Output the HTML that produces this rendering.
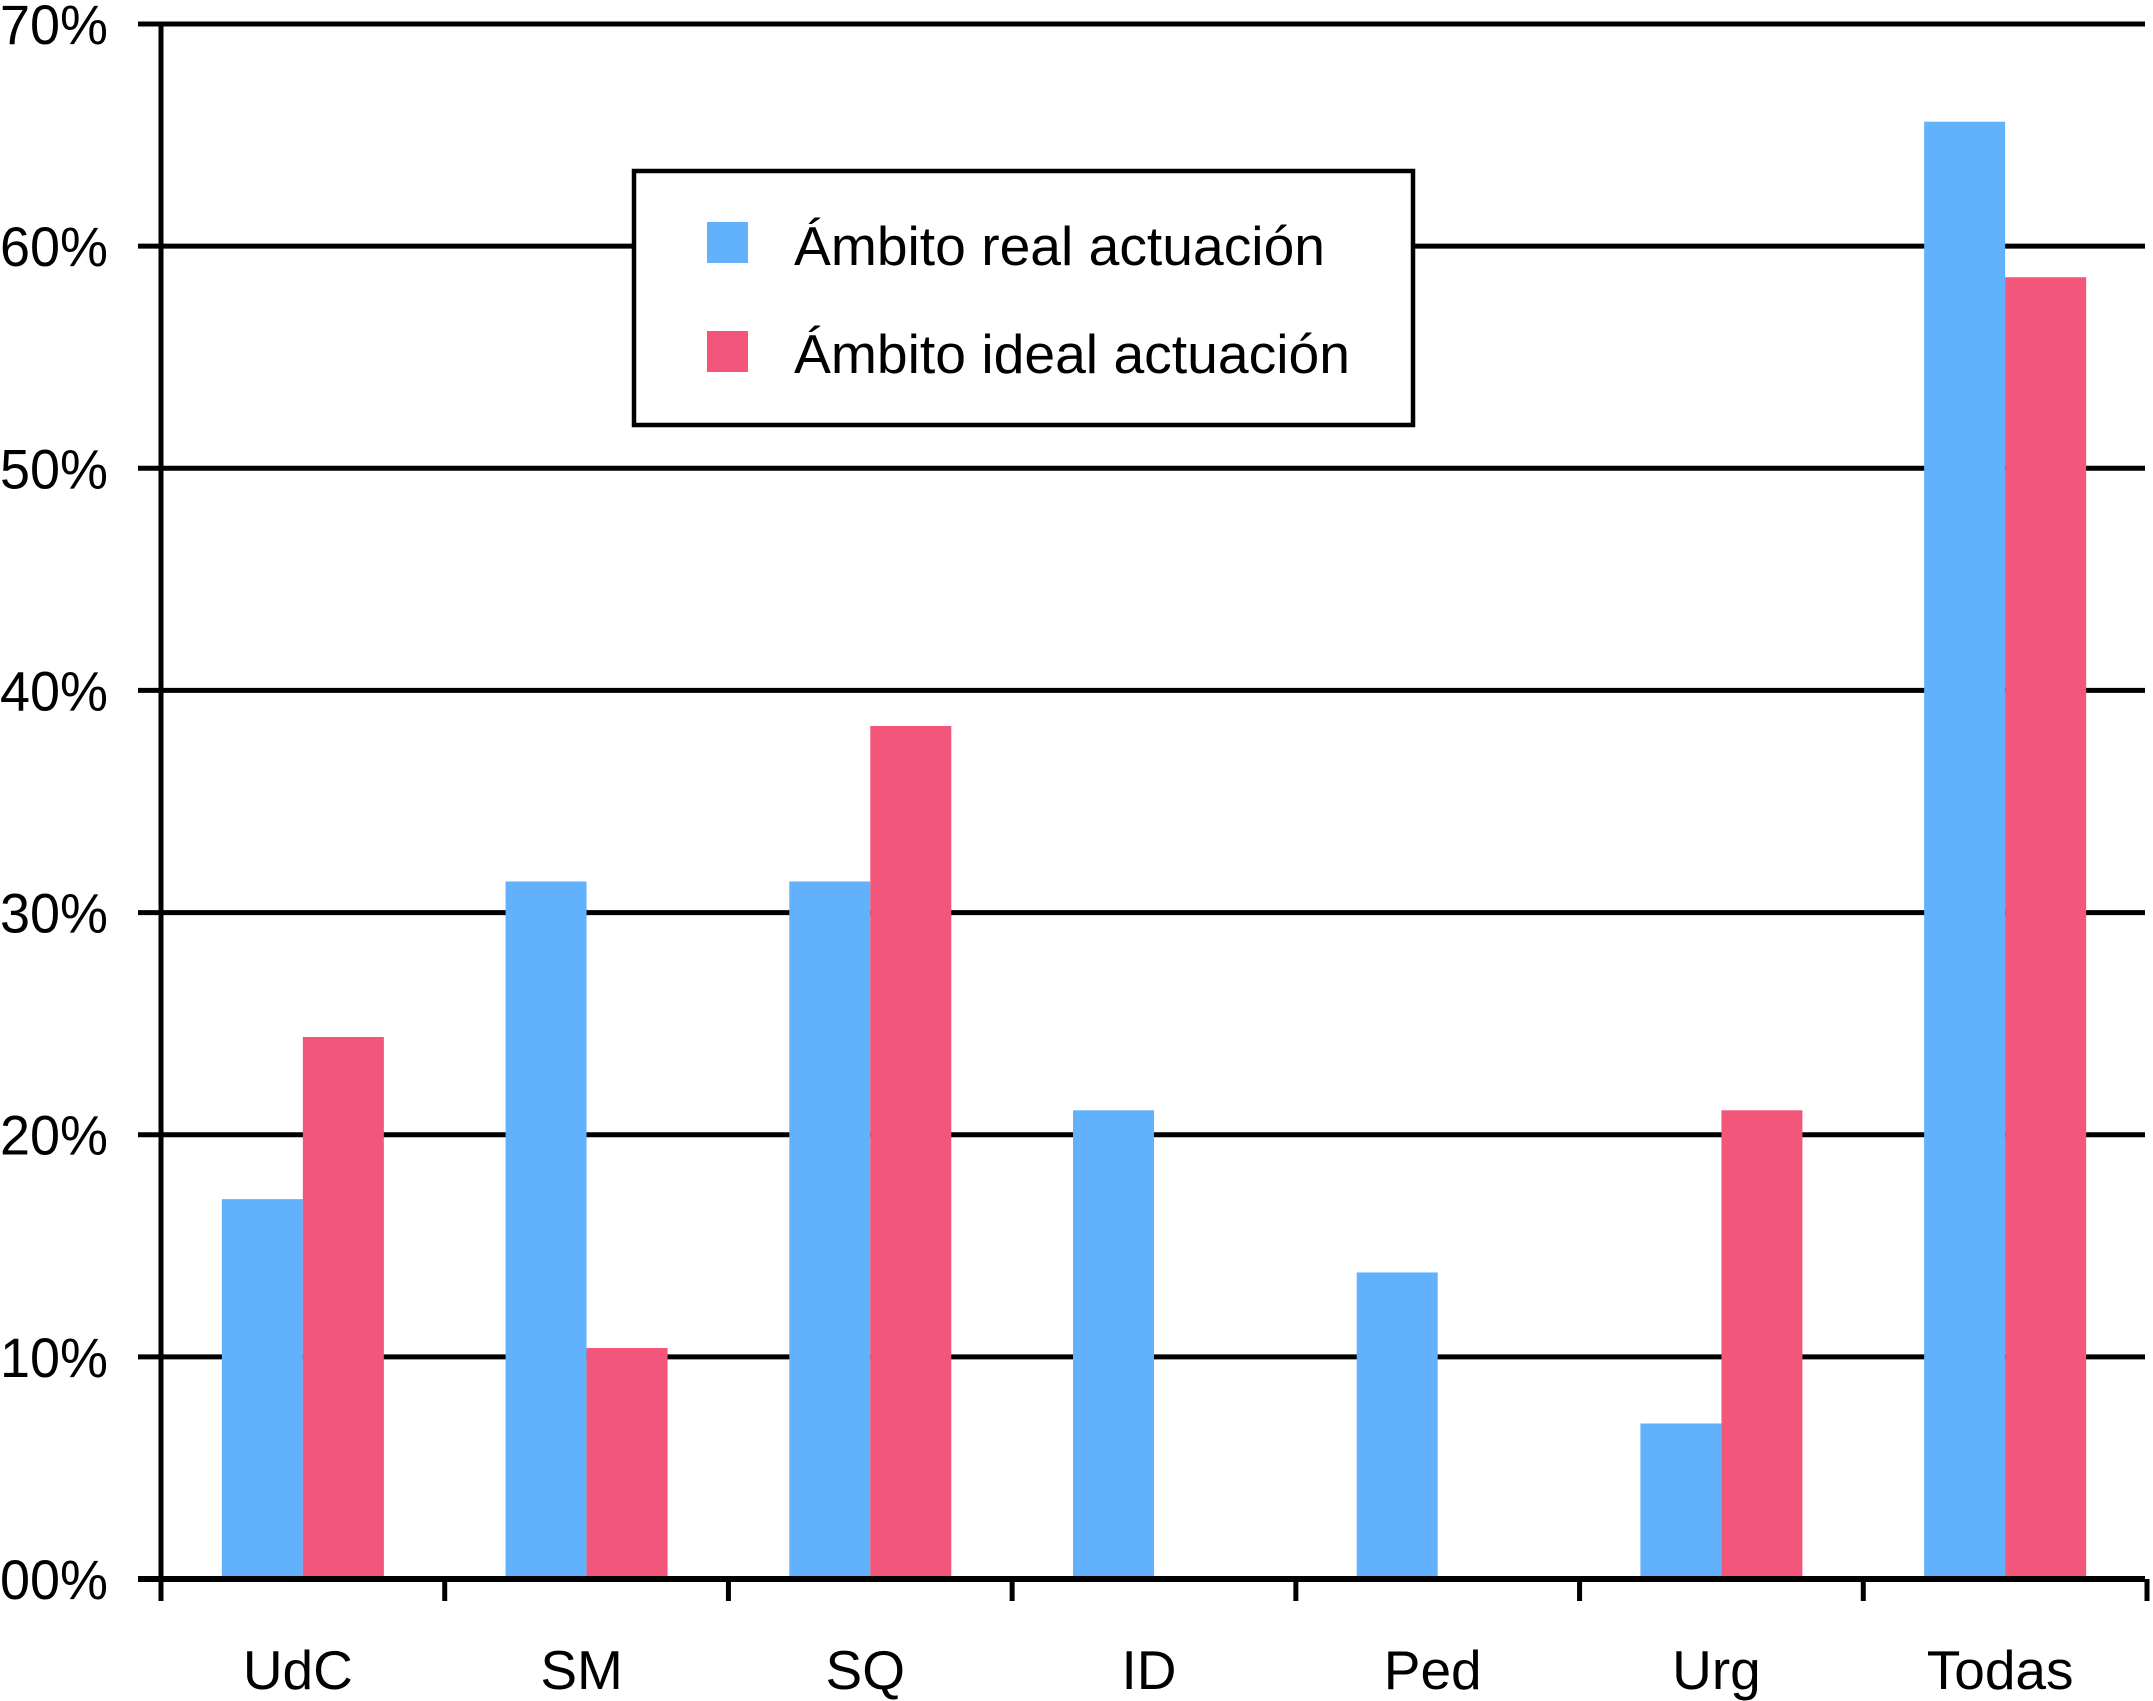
<!DOCTYPE html>
<html><head><meta charset="utf-8"><style>
html,body{margin:0;padding:0;background:#fff}
svg{display:block}
text{font-family:"Liberation Sans",Arial,sans-serif;fill:#000}
</style></head><body>
<svg id="chart" width="2153" height="1701" viewBox="0 0 2153 1701" xmlns="http://www.w3.org/2000/svg">
<g id="grid"></g>
<g id="bars"></g>
<g id="axes"></g>
<g id="legend">
  <rect x="634" y="171" width="779" height="254" fill="#fff" stroke="#000" stroke-width="4.5"/>
  <rect x="707" y="222" width="41" height="41" fill="#62b1fc"/>
  <text x="794" y="265" font-size="55" textLength="531" lengthAdjust="spacingAndGlyphs">Ámbito real actuación</text>
  <rect x="707" y="331" width="41" height="41" fill="#f2567a"/>
  <text x="794" y="373" font-size="55" textLength="556" lengthAdjust="spacingAndGlyphs">Ámbito ideal actuación</text>
</g>
</svg>
<script>
const categories = ["UdC","SM","SQ","ID","Ped","Urg","Todas"];
const realValues = [17.1,31.4,31.4,21.1,13.8,7.0,65.6];
const idealValues = [24.4,10.4,38.4,0,0,21.1,58.6];
const yTicks = [0,10,20,30,40,50,60,70];
const yTickLabels = ["00%","10%","20%","30%","40%","50%","60%","70%"];

const NS="http://www.w3.org/2000/svg";
const X0=161, X1=2147, Y0=1579, YTOP=24, YMAX=70, BW=81, LW=5;
const catW=(X1-X0)/categories.length;
function y(v){return Y0-(v/YMAX)*(Y0-YTOP);}
function xc(i){return X0+catW*(i+0.5);}
function mk(tag,attrs,parent){const e=document.createElementNS(NS,tag);for(const k in attrs)e.setAttribute(k,attrs[k]);parent.appendChild(e);return e;}
const grid=document.getElementById('grid'),bars=document.getElementById('bars'),axes=document.getElementById('axes');

yTicks.forEach((t,i)=>{
  const l=mk('line',{x1:138,x2:2145,y1:y(t),y2:y(t),stroke:'#000','stroke-width':LW},grid);
  
  
  const tx=mk('text',{x:108,y:y(t)+20,'font-size':56,'text-anchor':'end',textLength:108,lengthAdjust:'spacingAndGlyphs'},axes);
  tx.textContent=yTickLabels[i];
  
  
});

categories.forEach((c,i)=>{
  const c1=xc(i);
  const rb=mk('rect',{x:c1-BW,y:y(realValues[i]),width:BW,height:Y0-y(realValues[i]),fill:'#62b1fc'},bars);
  
  
  const ib=mk('rect',{x:c1,y:y(idealValues[i]),width:BW,height:Y0-y(idealValues[i]),fill:'#f2567a'},bars);
  
  
  const tx=mk('text',{x:c1-5,y:1689,'font-size':55,'text-anchor':'middle'},axes);
  tx.textContent=c;
  
  
});

for(let i=0;i<=categories.length;i++){
  const xx=X0+catW*i;
  const t=mk('line',{x1:xx,x2:xx,y1:Y0,y2:1601,stroke:'#000','stroke-width':LW},axes);
  
  
}
const ya=mk('line',{x1:X0,x2:X0,y1:YTOP-2,y2:1601,stroke:'#000','stroke-width':LW},axes);


const xa=mk('line',{x1:138,x2:2145,y1:Y0,y2:Y0,stroke:'#000','stroke-width':6},axes);


</script>
</body></html>
